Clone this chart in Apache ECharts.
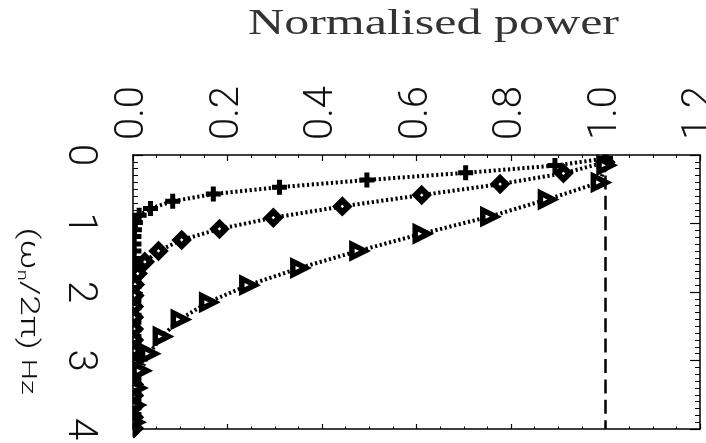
<!DOCTYPE html>
<html>
<head>
<meta charset="utf-8">
<script src="https://cdn.jsdelivr.net/npm/echarts@6/dist/echarts.min.js"></script>
<style>
  html, body { margin: 0; padding: 0; background: #fff; }
  #chart { width: 706px; height: 443px; }
</style>
</head>
<body>
<div id="chart"></div>
<script>
// Tick labels of the two axes
const powerTickLabels = ['0.0', '0.2', '0.4', '0.6', '0.8', '1.0', '1.2'];
const freqTickLabels = ['0', '1', '2', '3', '4'];

// Spectrum drawn with crosses: frequency (Hz) and normalised power
const crossFreq = [0.05, 0.155, 0.26, 0.365, 0.47, 0.57, 0.675, 0.78, 0.88, 0.985,
  1.09, 1.19, 1.30, 1.40, 1.51, 1.61, 1.71, 1.82, 1.92, 2.03,
  2.13, 2.23, 2.34, 2.44, 2.55, 2.65, 2.75, 2.86, 2.96, 3.07,
  3.17, 3.27, 3.38, 3.48, 3.59, 3.69, 3.79, 3.90];
const crossPower = [1.0, 0.893, 0.704, 0.495, 0.31, 0.17, 0.084, 0.037, 0.013, 0.005,
  0.003, 0.002, 0.002, 0.002, 0.002, 0.002, 0.002, 0.002, 0.002, 0.002,
  0.002, 0.002, 0.002, 0.002, 0.002, 0.002, 0.002, 0.002, 0.002, 0.002,
  0.002, 0.002, 0.002, 0.002, 0.002, 0.002, 0.002, 0.002];

// Spectrum drawn with diamonds
const diamondFreq = [0.105, 0.267, 0.425, 0.585, 0.75, 0.915, 1.08, 1.24, 1.40, 1.56,
  1.73, 1.89, 2.05, 2.21, 2.37, 2.54, 2.70, 2.86, 3.02, 3.18,
  3.35, 3.51, 3.67, 3.83, 3.99];
const diamondPower = [1.0, 0.911, 0.777, 0.611, 0.443, 0.297, 0.183, 0.103, 0.054, 0.025,
  0.01, 0.004, 0.003, 0.002, 0.002, 0.002, 0.002, 0.002, 0.002, 0.002,
  0.002, 0.002, 0.002, 0.002, 0.002];

// Spectrum drawn with right-pointing triangles
const triangleFreq = [0.15, 0.40, 0.65, 0.90, 1.15, 1.40, 1.65, 1.90, 2.15, 2.40,
  2.65, 2.90, 3.15, 3.40, 3.65, 3.90];
const trianglePower = [1.0, 0.988, 0.876, 0.754, 0.611, 0.477, 0.352, 0.244, 0.159, 0.099,
  0.061, 0.034, 0.016, 0.007, 0.004, 0.003];

// Reference level (dashed)
const refFreq = [0, 4];
const refPower = [1.0, 1.0];

const toPairs = (freq, power) => freq.map((f, i) => [power[i], f]);

const black = '#000';
const labelFont = { fontFamily: 'Roboto, "Liberation Sans", sans-serif', fontWeight: 300, fontSize: 40, color: '#111' };

const dotted = { color: black, width: 4, type: [2.2, 2.6], cap: 'butt' };

const crossPath = 'path://M4,0H8V4H12V8H8V12H4V8H0V4H4Z';
const trianglePath = 'path://M0,0L12,6L0,12Z';

function powerAxis(pos, showLabels, tickLen, minorLen) {
  return {
    type: 'value', position: pos, min: 0, max: 1.2, interval: 0.2, z: 10,
    axisLine: { show: true, onZero: false, lineStyle: { color: black, width: 1.5 } },
    axisTick: { show: true, inside: true, length: tickLen, lineStyle: { color: black, width: 1.2 } },
    minorTick: { show: true, splitNumber: 4, length: minorLen, lineStyle: { color: black, width: 1 } },
    splitLine: { show: false },
    axisLabel: Object.assign({
      show: showLabels, rotate: -90, margin: 15,
      formatter: v => powerTickLabels[Math.round(v / 0.2)]
    }, labelFont)
  };
}

function freqAxis(pos, showLabels) {
  return {
    type: 'value', position: pos, min: 0, max: 4, interval: 1, inverse: true, z: 10,
    axisLine: { show: true, onZero: false, lineStyle: { color: black, width: 1.5 } },
    axisTick: { show: true, inside: true, length: 10, lineStyle: { color: black, width: 1.2 } },
    minorTick: { show: true, splitNumber: 10, length: 5, lineStyle: { color: black, width: 1 } },
    splitLine: { show: false },
    axisLabel: Object.assign({
      show: showLabels, rotate: -90, margin: 34,
      formatter: v => freqTickLabels[Math.round(v)]
    }, labelFont)
  };
}

const chart = echarts.init(document.getElementById('chart'), null, { renderer: 'canvas' });

chart.setOption({
  animation: false,
  backgroundColor: '#fff',
  grid: { left: 133, right: 6, top: 155, bottom: 14, containLabel: false, outerBoundsMode: 'none' },
  xAxis: [powerAxis('top', true, 6, 3), powerAxis('bottom', false, 5, 2.5)],
  yAxis: [freqAxis('left', true), freqAxis('right', false)],
  graphic: {
    elements: [
      // keep markers inside the plot frame
      { type: 'rect', z: 5, silent: true, shape: { x: 104, y: 140, width: 28.5, height: 303 }, style: { fill: '#fff' } },
      { type: 'rect', z: 5, silent: true, shape: { x: 104, y: 140, width: 602, height: 14.5 }, style: { fill: '#fff' } },
      // plot title
      {
        type: 'text', z: 6, x: 248, y: 25, scaleX: 1.39, scaleY: 1,
        style: { text: 'Normalised power', font: '36px "Liberation Serif", serif', fill: '#333',
                 textAlign: 'left', textVerticalAlign: 'middle' }
      },
      // frequency axis title, written down the page
      {
        type: 'text', z: 6, x: 27, y: 311, rotation: -Math.PI / 2, scaleX: 1.42,
        style: {
          text: '(ω{sub|n}/2π) {hz|Hz}',
          font: '300 26px Roboto, "DejaVu Sans", sans-serif', fill: '#111',
          textAlign: 'center', textVerticalAlign: 'middle',
          rich: {
            sub: { fontSize: 14, fontFamily: 'Roboto', fontWeight: 300, verticalAlign: 'bottom', padding: [10, 0, 0, 0] },
            hz: { fontSize: 21, fontFamily: 'Roboto', fontWeight: 300 }
          }
        }
      }
    ]
  },
  series: [
    {
      type: 'line', name: 'reference', clip: false, z: 2,
      data: toPairs(refFreq, refPower), symbol: 'none',
      lineStyle: { color: black, width: 2.5, type: [14, 6.4] },
      emphasis: { disabled: true }
    },
    {
      type: 'line', name: 'cross', clip: false, z: 3,
      data: toPairs(crossFreq, crossPower),
      symbol: crossPath, symbolSize: 15,
      itemStyle: { color: black, borderWidth: 0 },
      lineStyle: dotted, emphasis: { disabled: true }
    },
    {
      type: 'line', name: 'diamond', clip: false, z: 3,
      data: toPairs(diamondFreq, diamondPower),
      symbol: 'diamond', symbolSize: 12,
      itemStyle: { color: '#fff', borderColor: black, borderWidth: 6 },
      lineStyle: dotted, emphasis: { disabled: true }
    },
    {
      type: 'line', name: 'triangle', clip: false, z: 3,
      data: toPairs(triangleFreq, trianglePower),
      symbol: trianglePath, symbolSize: 13,
      itemStyle: { color: '#fff', borderColor: black, borderWidth: 5.5 },
      lineStyle: dotted, emphasis: { disabled: true }
    }
  ]
});
</script>
</body>
</html>
